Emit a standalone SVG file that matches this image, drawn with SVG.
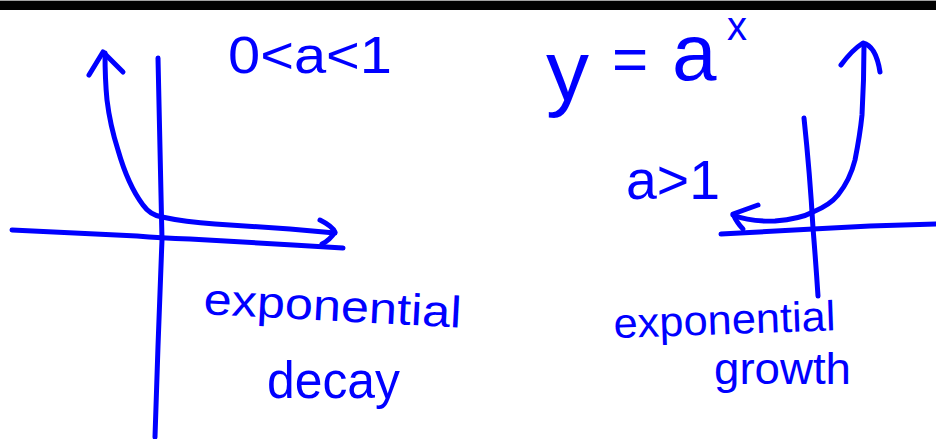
<svg xmlns="http://www.w3.org/2000/svg" width="936" height="439" viewBox="0 0 936 439">
<style>
.ink{fill:none;stroke:#0000ff;stroke-width:5;stroke-linecap:round;stroke-linejoin:round}
.t{fill:#0000ff;font-family:"Liberation Sans","Noto Sans",Arial,sans-serif}
</style>
<rect x="0" y="0" width="936" height="439" fill="#ffffff"/>
<rect x="0" y="0" width="936" height="1" fill="#a0a0a0"/>
<rect x="0" y="1" width="936" height="9" fill="#000000"/>

<g id="decay-graph">
<path class="ink" d="M158 58 Q160 150 162 240 Q158 340 155 437"/>
<path class="ink" d="M12 230 L137 236 Q160 238 190 239 L293 245 L343 248"/>
<path class="ink" d="M105 53 Q105 80 107 100 Q110 125 118 150 Q128 185 143 205 Q150 215 162 217 Q185 222 215 224 L290 229 L335 233"/>
<path class="ink" d="M89 75 L103 52 L123 72"/>
<path class="ink" d="M320 220 Q332 226 335 232 Q330 240 322 244"/>
</g>

<g id="growth-graph">
<path class="ink" d="M804 118 Q810 175 813 228 Q816 265 818 296"/>
<path class="ink" d="M721 234 L813 229 L870 226 L936 224"/>
<path class="ink" d="M733 215 Q750 222 775 221 Q800 219 813 212 Q830 205 838 195 Q850 180 855 160 Q860 135 862 115 Q864 80 864 45"/>
<path class="ink" d="M758 205 L733 214 Q737 223 743 229"/>
<path class="ink" d="M841 65 Q852 50 863 43 Q876 46 880 72"/>
</g>

<g id="labels">
<text class="t" x="228" y="73" font-size="52" textLength="164" lengthAdjust="spacingAndGlyphs">0&lt;a&lt;1</text>
<text class="t" x="203" y="314" font-size="44" textLength="258" lengthAdjust="spacingAndGlyphs" transform="rotate(3 203 314)">exponential</text>
<text class="t" x="267" y="398" font-size="52" textLength="133" lengthAdjust="spacingAndGlyphs">decay</text>
<text class="t"><tspan x="546" y="100" font-size="86">y</tspan><tspan x="612" y="80" font-size="62">=</tspan><tspan x="672" y="80" font-size="80">a</tspan><tspan x="727" y="40" font-size="40">x</tspan></text>
<text class="t" x="626" y="199" font-size="56" textLength="94" lengthAdjust="spacingAndGlyphs">a&gt;1</text>
<text class="t" x="614" y="338" font-size="42" textLength="222" lengthAdjust="spacingAndGlyphs" transform="rotate(-2 614 338)">exponential</text>
<text class="t" x="714" y="384" font-size="45" textLength="137" lengthAdjust="spacingAndGlyphs">growth</text>
</g>
</svg>
